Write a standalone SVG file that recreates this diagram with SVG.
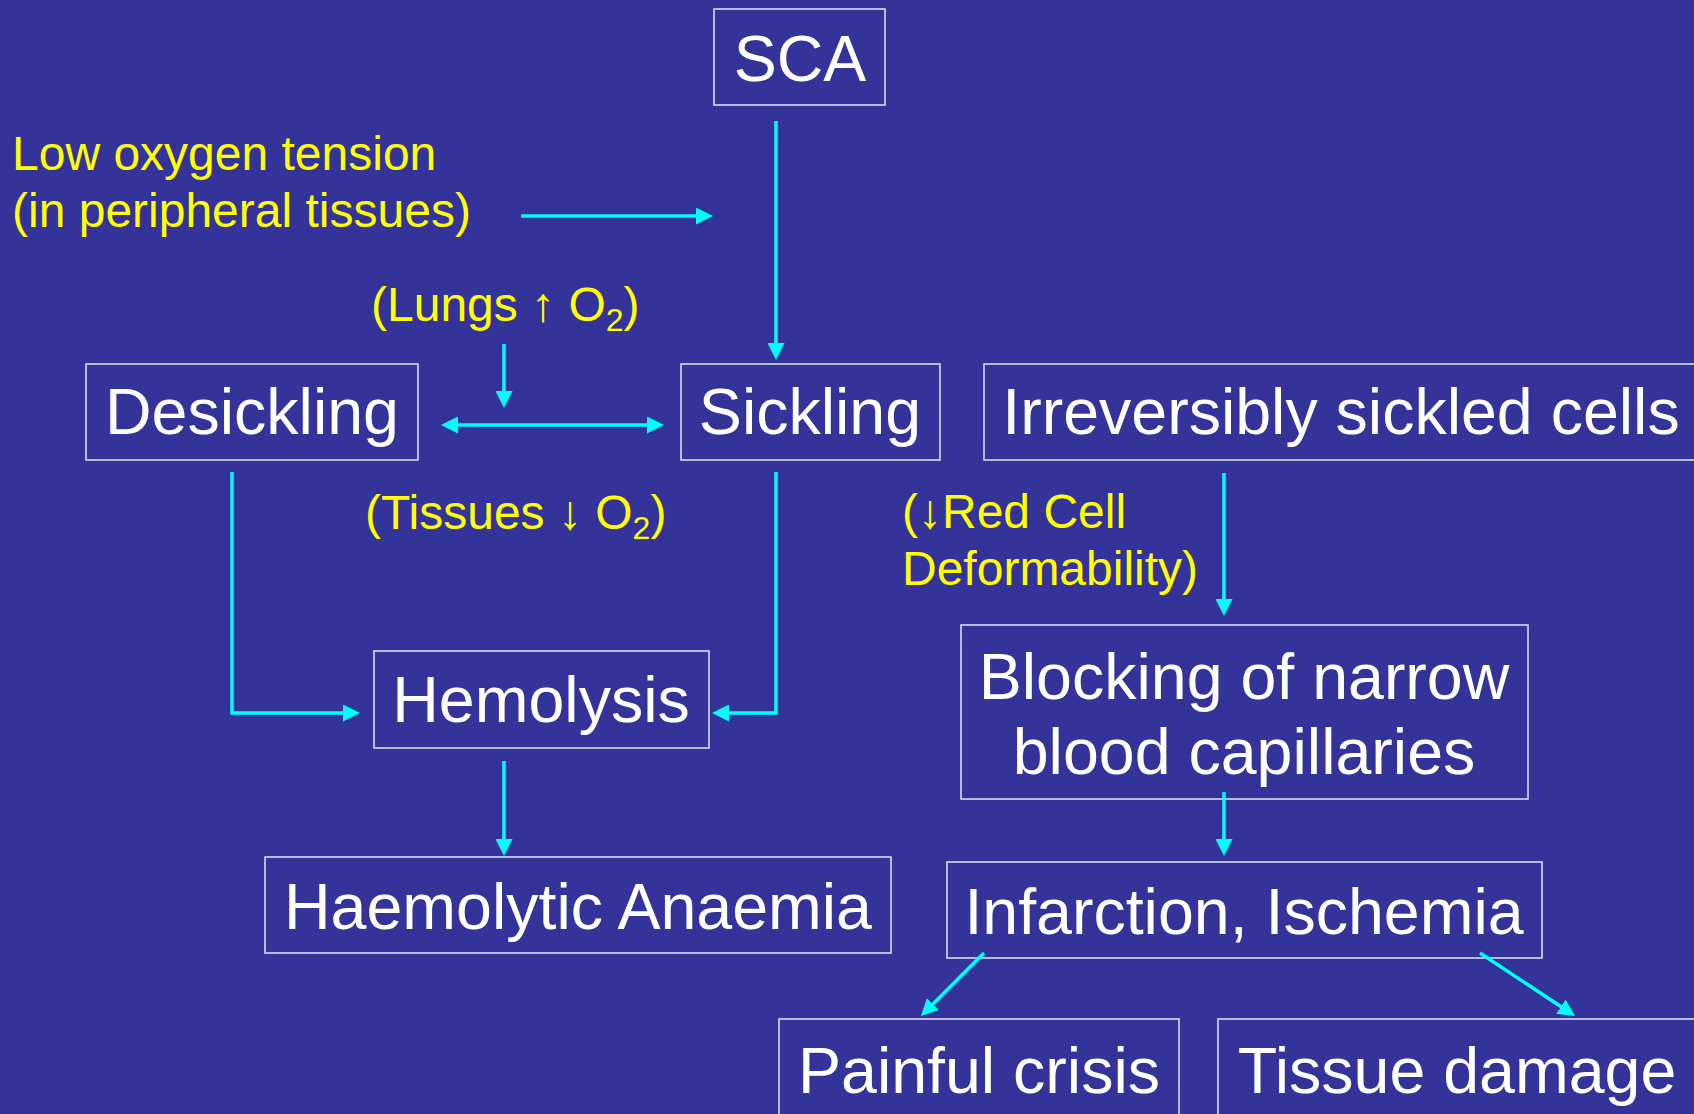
<svg xmlns="http://www.w3.org/2000/svg" width="1694" height="1114" viewBox="0 0 1694 1114">
<style>
.bg{fill:#333399}
.box{fill:#333399;stroke:#e6e6f0;stroke-width:1.5}
.nt{font-family:"Liberation Sans",Arial,sans-serif;font-size:64.5px;fill:#ffffff;text-anchor:middle}
.lt{font-family:"Liberation Sans",Arial,sans-serif;font-size:48px;fill:#ffff00}
.sub{font-size:32px}
.c{fill:none;stroke:#00ffff;stroke-width:3.5;stroke-linejoin:miter}
</style>
<defs>
<marker id="ah" markerUnits="userSpaceOnUse" markerWidth="17" markerHeight="17" refX="13" refY="8.5" orient="auto-start-reverse" viewBox="0 0 17 17">
<path d="M0,0 L17,8.5 L0,17 z" fill="#00ffff"/>
</marker>
</defs>
<rect class="bg" x="0" y="0" width="1694" height="1114"/>

<g id="labels">
<text class="lt" x="12" y="170">Low oxygen tension</text>
<text class="lt" x="12" y="227">(in peripheral tissues)</text>
<text class="lt" x="371" y="321">(Lungs ↑ O<tspan class="sub" dy="10">2</tspan><tspan dy="-10">)</tspan></text>
<text class="lt" x="365" y="529">(Tissues ↓ O<tspan class="sub" dy="10">2</tspan><tspan dy="-10">)</tspan></text>
<text class="lt" x="902" y="528">(↓Red Cell</text>
<text class="lt" x="902" y="585">Deformability)</text>
</g>

<g id="node-sca">
<rect class="box" x="714" y="9" width="171" height="96"/>
<text class="nt" x="800" y="81">SCA</text>
</g>
<g id="node-desickling">
<rect class="box" x="86" y="364" width="332" height="96"/>
<text class="nt" x="252" y="434">Desickling</text>
</g>
<g id="node-sickling">
<rect class="box" x="681" y="364" width="259" height="96"/>
<text class="nt" x="810" y="434">Sickling</text>
</g>
<g id="node-irreversibly">
<rect class="box" x="984" y="364" width="720" height="96"/>
<text class="nt" x="1341" y="434">Irreversibly sickled cells</text>
</g>
<g id="node-hemolysis">
<rect class="box" x="374" y="651" width="335" height="97"/>
<text class="nt" x="541" y="722">Hemolysis</text>
</g>
<g id="node-haemolytic">
<rect class="box" x="265" y="857" width="626" height="96"/>
<text class="nt" x="578" y="929">Haemolytic Anaemia</text>
</g>
<g id="node-blocking">
<rect class="box" x="961" y="625" width="567" height="174"/>
<text class="nt" x="1244" y="699">Blocking of narrow</text>
<text class="nt" x="1244" y="774">blood capillaries</text>
</g>
<g id="node-infarction">
<rect class="box" x="947" y="862" width="595" height="96"/>
<text class="nt" x="1244" y="934">Infarction, Ischemia</text>
</g>
<g id="node-painful">
<rect class="box" x="779" y="1019" width="400" height="110"/>
<text class="nt" x="979" y="1093">Painful crisis</text>
</g>
<g id="node-tissue">
<rect class="box" x="1218" y="1019" width="490" height="110"/>
<text class="nt" x="1457" y="1093">Tissue damage</text>
</g>

<g id="connectors">
<path class="c" d="M521,216 H709" marker-end="url(#ah)"/>
<path class="c" d="M776,121 V356" marker-end="url(#ah)"/>
<path class="c" d="M504,344 V404" marker-end="url(#ah)"/>
<path class="c" d="M445,425 H660" marker-start="url(#ah)" marker-end="url(#ah)"/>
<path class="c" d="M232,472 V713 H356" marker-end="url(#ah)"/>
<path class="c" d="M776,472 V713 H716" marker-end="url(#ah)"/>
<path class="c" d="M504,761 V852" marker-end="url(#ah)"/>
<path class="c" d="M1224,473 V612" marker-end="url(#ah)"/>
<path class="c" d="M1224,792 V852" marker-end="url(#ah)"/>
<path class="c" d="M984,953 L923.8,1013.2" marker-end="url(#ah)"/>
<path class="c" d="M1480,953 L1571.7,1013.8" marker-end="url(#ah)"/>
</g>
</svg>
